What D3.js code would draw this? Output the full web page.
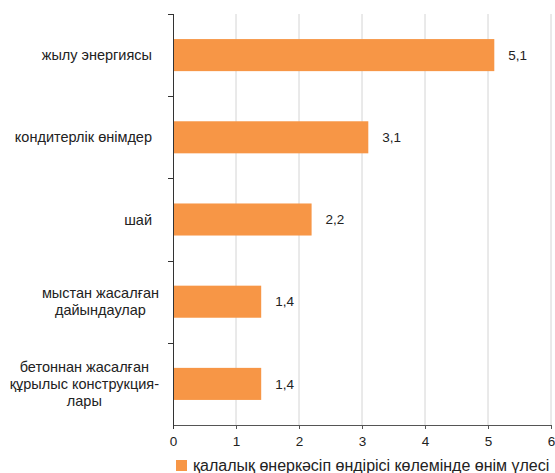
<!DOCTYPE html>
<html>
<head>
<meta charset="utf-8">
<script src="https://cdn.jsdelivr.net/npm/d3@7"></script>
<style>
  body { margin: 0; background: #fff; }
  svg { font-family: 'Liberation Sans', Arial, sans-serif; }
  .tick text { font-size: 13.5px; fill: #222; }
</style>
</head>
<body>
<svg width="555" height="473"></svg>
<script>
// values
const categories = [
  ['жылу энергиясы'],
  ['кондитерлік өнімдер'],
  ['шай'],
  ['мыстан жасалған', 'дайындаулар'],
  ['бетоннан жасалған', 'құрылыс конструкция-', 'лары']
];
const values = [5.1, 3.1, 2.2, 1.4, 1.4];
const xTicks = [0, 1, 2, 3, 4, 5, 6];
const legendLabel = 'қалалық өнеркәсіп өндірісі көлемінде өнім үлесі';

const svg = d3.select('svg');
const width = +svg.attr('width');
const height = +svg.attr('height');

const margin = {top: 14, right: 4, bottom: 48, left: 173};
const innerWidth = width - margin.left - margin.right;
const innerHeight = height - margin.top - margin.bottom;

const barColor = '#f79646';
const fmt = v => String(v).replace('.', ',');

const data = categories.map((c, i) => ({lines: c, value: values[i], key: i}));

const xScale = d3.scaleLinear()
  .domain([0, 6])
  .range([0, innerWidth]);

const yScale = d3.scaleBand()
  .domain(data.map(d => d.key))
  .range([0, innerHeight])
  .paddingInner(0.61)
  .paddingOuter(0.305);

const g = svg.append('g')
  .attr('transform', `translate(${margin.left},${margin.top})`);

// gridlines
g.selectAll('.grid').data(xTicks.slice(1))
  .enter().append('line')
    .attr('class', 'grid')
    .attr('x1', d => xScale(d))
    .attr('x2', d => xScale(d))
    .attr('y1', 0)
    .attr('y2', innerHeight)
    .attr('stroke', '#d4d4d4')
    .attr('stroke-width', 1);

// x axis
const xAxisG = g.append('g')
  .attr('transform', `translate(0,${innerHeight})`)
  .call(d3.axisBottom(xScale).tickValues(xTicks).tickSize(4).tickPadding(7).tickFormat(d3.format('d')));
xAxisG.select('.domain').attr('stroke', '#555').attr('d', `M0.5,0.5H${innerWidth + 0.5}`);
xAxisG.selectAll('.tick line').attr('stroke', '#555');

// bars
g.selectAll('rect').data(data)
  .enter().append('rect')
    .attr('x', 0)
    .attr('y', d => yScale(d.key))
    .attr('width', d => xScale(d.value))
    .attr('height', yScale.bandwidth())
    .attr('fill', barColor);

// y axis: line with ticks at band boundaries
const bounds = d3.range(data.length + 1).map(i => i * innerHeight / data.length);
g.append('line')
  .attr('x1', 0.5).attr('x2', 0.5)
  .attr('y1', 0).attr('y2', innerHeight + 4)
  .attr('stroke', '#333');
g.selectAll('.ytick').data(bounds.slice(0, -1))
  .enter().append('line')
    .attr('class', 'ytick')
    .attr('x1', -5).attr('x2', 0)
    .attr('y1', d => Math.round(d) + 0.5)
    .attr('y2', d => Math.round(d) + 0.5)
    .attr('stroke', '#333');

// category labels
const lineH = 17;
data.forEach(d => {
  const cy = yScale(d.key) + yScale.bandwidth() / 2;
  const n = d.lines.length;
  const t = g.append('text')
    .attr('font-size', 14.5)
    .attr('fill', '#222');
  const spans = d.lines.map((ln, i) => t.append('tspan')
    .attr('y', cy + (i - (n - 1) / 2) * lineH)
    .attr('dy', '0.35em')
    .text(ln));
  if (n === 1) {
    spans[0].attr('x', -21).attr('text-anchor', 'end');
  } else {
    const w = d3.max(spans, s => s.node().getComputedTextLength());
    spans.forEach(s => s.attr('x', -14 - w / 2).attr('text-anchor', 'middle'));
  }
});

// value labels
g.selectAll('.val').data(data)
  .enter().append('text')
    .attr('class', 'val')
    .attr('x', d => xScale(d.value) + 14)
    .attr('y', d => yScale(d.key) + yScale.bandwidth() / 2)
    .attr('dy', '0.35em')
    .attr('font-size', 13.5)
    .attr('fill', '#222')
    .text(d => fmt(d.value));

// legend
const legend = svg.append('g')
  .attr('transform', `translate(176,460)`);
legend.append('rect')
  .attr('width', 11).attr('height', 11)
  .attr('fill', barColor);
legend.append('text')
  .attr('x', 17)
  .attr('y', 5.5)
  .attr('dy', '0.33em')
  .attr('font-size', 16)
  .attr('fill', '#222')
  .text(legendLabel);
</script>
</body>
</html>
